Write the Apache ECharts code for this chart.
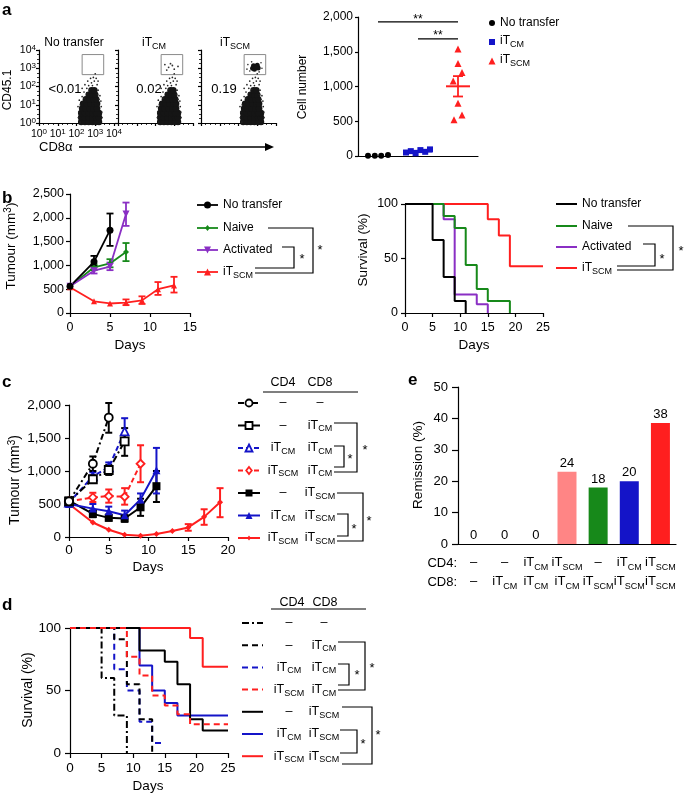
<!DOCTYPE html>
<html><head><meta charset="utf-8">
<script src="https://cdn.jsdelivr.net/npm/echarts@6/dist/echarts.min.js"></script>
<style>html,body{margin:0;padding:0;background:#fff}#c{width:685px;height:793px}</style>
</head><body><div id="c"></div>
<script>
const FONT = '"Liberation Sans", Arial, Helvetica, sans-serif';

// ================= DATA =================
// --- a: flow cytometry (log10 fluorescence units) ---
const flowDecades = [0, 1, 2, 3, 4];
const flowTitles = ['No transfer', 'iT_CM', 'iT_SCM'];
const flowPercents = ['<0.01', '0.02', '0.19'];
const flowCoreCloud = [
  [2.25,0.05],[2.45,0.05],[2.65,0.05],[2.85,0.05],[3.05,0.05],[3.2,0.05],
  [2.25,0.3],[2.45,0.3],[2.65,0.3],[2.85,0.3],[3.05,0.3],[3.2,0.3],
  [2.25,0.55],[2.45,0.55],[2.65,0.55],[2.85,0.55],[3.05,0.55],[3.2,0.55],
  [2.3,0.8],[2.5,0.8],[2.7,0.8],[2.9,0.8],[3.1,0.8],
  [2.35,1.05],[2.55,1.05],[2.75,1.05],[2.95,1.05],[3.1,1.05],
  [2.5,1.3],[2.7,1.3],[2.9,1.3],[3.05,1.3],
  [2.65,1.55],[2.85,1.55],[3.0,1.55],
  [2.8,1.8],[2.95,1.8]
];
const flowSparseCloud = [
  [2.1,0.3],[2.08,0.9],[2.15,1.25],[2.3,1.45],[2.4,1.7],[2.55,1.9],[2.65,2.05],[2.8,2.2],[2.95,2.3],
  [3.1,2.1],[2.9,2.5],[3.0,2.7],[3.25,1.5],[3.32,0.9],[3.36,0.3],[2.6,2.3],[2.75,2.45],
  [3.15,1.8],[2.45,2.1],[3.05,2.45],[2.12,0.6],[3.3,1.2],[2.3,1.9],[2.85,2.05],[3.15,2.3],
  [2.18,0.05],[3.35,0.6],[2.2,1.0],[3.2,1.3],[2.4,1.35],[3.12,1.55],[2.55,1.65],[2.7,1.85]
];
const flowGateCM = [[2.5,3.2],[2.7,3.05],[2.9,3.15],[3.0,2.95],[3.2,3.1],[2.6,2.9],[2.8,3.25]];
const flowGateSCMCore = [[2.75,3.0],[2.9,3.1],[3.05,3.02],[2.85,2.94],[3.0,3.16],[2.8,3.14],[2.95,3.05]];
const flowGateSCMSparse = [[2.5,3.2],[3.25,3.0],[2.6,2.85],[3.2,3.3],[2.7,3.35],[3.1,2.8],[2.45,2.95]];
const flowGate = [[2.3, 2.65], [3.45, 3.75]];

// --- a: cell numbers ---
const cellNoTransfer = [5, 5, 5, 15];
const cellCM = [50, 70, 40, 85, 60, 95];
const cellSCM = [1540, 1330, 1200, 1080, 760, 520, 590];
const cellLegend = ['No transfer', 'iT_CM', 'iT_SCM'];

// --- b: tumour growth [day, mm3] and error bars [day, low, high] ---
const bLegend = ['No transfer', 'Naive', 'Activated', 'iT_SCM'];
const tumNoTransfer = [[0,560],[3,1075],[5,1740]];
const tumNoTransferErr = [[3,990,1200],[5,1410,2090]];
const tumNaive = [[0,560],[3,960],[5,1040],[7,1280]];
const tumNaiveErr = [[3,900,1020],[5,960,1130],[7,1090,1470]];
const tumActivated = [[0,560],[3,890],[5,975],[7,2080]];
const tumActivatedErr = [[3,830,950],[5,900,1060],[7,1830,2320]];
const tumSCM = [[0,540],[3,245],[5,200],[7,220],[9,265],[11,500],[13,580]];
const tumSCMErr = [[7,165,285],[9,190,350],[11,380,650],[13,430,760]];

// --- b: survival (%) ---
const survNoTransfer = [[0,100],[5,67],[7,33],[9,11],[11,0]];
const survNaive = [[0,100],[7,89],[9,78],[11,44],[13,22],[15,11],[19,0]];
const survActivated = [[0,100],[7,86],[9,17],[13,8],[15,0]];
const survSCM = [[0,100],[15,86],[17,71],[19,43],[25,43]];

// --- c/d/e groups (CD4 / CD8) ---
const groupCD4 = ['–', '–', 'iT_CM', 'iT_SCM', '–', 'iT_CM', 'iT_SCM'];
const groupCD8 = ['–', 'iT_CM', 'iT_CM', 'iT_CM', 'iT_SCM', 'iT_SCM', 'iT_SCM'];

// --- c: tumour growth ---
const cTum = [
  [[0,540],[3,1110],[5,1810]],
  [[0,540],[3,875],[5,1015],[7,1450]],
  [[0,520],[3,920],[5,1055],[7,1600]],
  [[0,540],[3,600],[5,620],[7,610],[9,1110]],
  [[0,550],[3,350],[5,290],[7,280],[9,450],[11,770]],
  [[0,500],[3,430],[5,390],[7,330],[9,570],[11,1010]],
  [[0,500],[3,220],[5,110],[7,35],[9,20],[11,45],[13,90],[15,145],[17,305],[19,525]]
];
const cTumErr = [
  [[3,1000,1220],[5,1580,2030]],
  [[3,820,930],[5,940,1090],[7,1230,1650]],
  [[3,860,980],[5,980,1130],[7,1400,1800]],
  [[3,530,670],[5,520,720],[7,490,740],[9,830,1390]],
  [[3,300,400],[5,250,340],[7,230,330],[9,320,580],[11,530,1000]],
  [[3,370,500],[5,320,460],[7,270,400],[9,470,660],[11,660,1350]],
  [[15,95,195],[17,185,420],[19,300,740]]
];

// --- d: survival (%) ---
const dSurv = [
  [[0,100],[5,60],[7,30],[9,0]],
  [[0,100],[7,91],[9,55],[11,27],[13,0]],
  [[0,100],[7,67],[9,50],[11,25],[13,8],[15,8]],
  [[0,100],[9,77],[11,62],[13,46],[15,38],[17,31],[19,23],[25,23]],
  [[0,100],[11,82],[15,73],[17,55],[19,27],[21,18],[25,18]],
  [[0,100],[11,70],[13,50],[15,40],[17,30],[25,30]],
  [[0,100],[19,92],[21,69],[25,69]]
];

// --- e: remission (%) ---
const eValues = [0, 0, 0, 23, 18, 20, 38.5];
const eLabels = ['0', '0', '0', '24', '18', '20', '38'];

// ================= STYLE / LAYOUT =================
const BLACK = '#000', RED = '#ff1f1f', BLUE = '#1414c8', GREEN = '#17891a', PURPLE = '#8a2fc4', PINK = '#ff8585';
const eColors = [BLACK, BLACK, BLACK, PINK, GREEN, BLUE, RED];

function merge(a, b) {
  const o = Object.assign({}, a);
  for (const k in b) {
    if (b[k] && typeof b[k] === 'object' && !Array.isArray(b[k]) && a && a[k] && typeof a[k] === 'object' && !Array.isArray(a[k])) o[k] = merge(a[k], b[k]);
    else o[k] = b[k];
  }
  return o;
}
const toRich = t => String(t).replace(/_([A-Za-z]+)/g, '{s|$1}').replace(/\^(\w+)/g, '{sup|$1}');
function richFor(fs) {
  const small = Math.round(fs * 0.72);
  return {
    s: { fontSize: small, fontFamily: FONT, fill: '#000', color: '#000', verticalAlign: 'bottom', padding: [Math.round(fs * 0.55), 0, 0, 0] },
    sup: { fontSize: small, fontFamily: FONT, fill: '#000', color: '#000', verticalAlign: 'top', padding: [0, 0, Math.round(fs * 0.45), 0] }
  };
}
const comma = v => v.toLocaleString('en-US');

const grids = [
  [39, 50, 75, 73], [118, 50, 75, 73], [201, 50, 75, 73], // a flow
  [358, 17, 120, 139],   // a cells
  [70, 194, 120, 119],   // b tumour
  [405, 204, 138, 109],  // b survival
  [69, 405, 159, 132],   // c tumour
  [458, 387, 218, 157],  // e
  [70, 628, 158, 125]    // d survival
];

function ax(grid, o) {
  return merge({
    gridIndex: grid, type: 'value',
    axisLine: { show: true, onZero: false, lineStyle: { color: '#000', width: 1.2 } },
    axisTick: { show: true, length: 4, lineStyle: { color: '#000', width: 1.2 } },
    splitLine: { show: false },
    axisLabel: { color: '#000', fontFamily: FONT, fontSize: 12, margin: 5 }
  }, o);
}

const xAxis = [], yAxis = [];
for (let i = 0; i < 3; i++) {
  const lab = { show: i === 0, fontSize: 10.5, margin: 3, formatter: v => '10{sup|' + v + '}', rich: richFor(10.5) };
  const minor = { show: true, splitNumber: 4, length: 2, lineStyle: { color: '#000', width: 0.8 } };
  xAxis.push(ax(i, { min: flowDecades[0], max: flowDecades[4], interval: 1, axisTick: { length: 3 }, minorTick: minor, axisLabel: merge(lab, { margin: 5 }) }));
  yAxis.push(ax(i, { min: flowDecades[0], max: flowDecades[4], interval: 1, axisTick: { length: 3 }, minorTick: minor, axisLabel: lab }));
}
xAxis.push(ax(3, { min: 0, max: 3, axisTick: { show: false }, axisLabel: { show: false } }));
yAxis.push(ax(3, { min: 0, max: 2000, interval: 500, axisTick: { length: 3 }, axisLabel: { formatter: comma, margin: 5 } }));
xAxis.push(ax(4, { min: 0, max: 15, interval: 5, axisLabel: { fontSize: 12.5, margin: 8 } }));
yAxis.push(ax(4, { min: 0, max: 2500, interval: 500, axisLabel: { fontSize: 12.5, formatter: comma, margin: 6 } }));
xAxis.push(ax(5, { min: 0, max: 25, interval: 5, axisLabel: { fontSize: 12.5, margin: 8 } }));
yAxis.push(ax(5, { min: 0, max: 100, interval: 50, axisLabel: { fontSize: 12.5, margin: 7 } }));
xAxis.push(ax(6, { min: 0, max: 20, interval: 5, axisLabel: { fontSize: 13.5, margin: 6 } }));
yAxis.push(ax(6, { min: 0, max: 2000, interval: 500, axisLabel: { fontSize: 13.5, formatter: comma, margin: 8 } }));
xAxis.push(ax(7, {
  type: 'category', data: eValues.map((_, i) => String(i)), axisTick: { show: false },
  axisLabel: { fontSize: 13, margin: 9, lineHeight: 19, interval: 0,
    formatter: (v, i) => toRich(groupCD4[i]) + '\n' + toRich(groupCD8[i]),
    rich: richFor(13) }
}));
yAxis.push(ax(7, { min: 0, max: 50, interval: 10, axisTick: { length: 6 }, axisLabel: { fontSize: 13, margin: 10 } }));
xAxis.push(ax(8, { min: 0, max: 25, interval: 5, axisTick: { length: 5 }, axisLabel: { fontSize: 13.5, margin: 8 } }));
yAxis.push(ax(8, { min: 0, max: 100, interval: 50, axisTick: { length: 5 }, axisLabel: { fontSize: 13.5, margin: 9 } }));

// ================= SERIES =================
const series = [];
function line(grid, data, color, o = {}) {
  series.push({
    type: 'line', xAxisIndex: grid, yAxisIndex: grid, data, step: o.step || false,
    symbol: o.symbol || 'none', showSymbol: !!o.symbol, symbolSize: o.size || 6, symbolRotate: o.rot || 0,
    lineStyle: { color, width: o.w || 1.8, type: o.dash || 'solid' },
    itemStyle: o.hollow ? { color: '#fff', borderColor: color, borderWidth: 1.8 } : { color, borderWidth: 0 },
    z: o.z || 3, silent: true, animation: false
  });
}
function err(grid, data, color, o = {}) {
  series.push({
    type: 'custom', xAxisIndex: grid, yAxisIndex: grid, data, z: o.z || 3, silent: true,
    encode: { x: 0, y: [1, 2] },
    renderItem(params, api) {
      const x = api.value(0), a = api.coord([x, api.value(1)]), b = api.coord([x, api.value(2)]);
      const c = o.cap || 3.5, st = { stroke: color, lineWidth: o.w || 1.8 };
      return { type: 'group', children: [
        { type: 'line', shape: { x1: a[0], y1: a[1], x2: b[0], y2: b[1] }, style: st },
        { type: 'line', shape: { x1: a[0] - c, y1: a[1], x2: a[0] + c, y2: a[1] }, style: st },
        { type: 'line', shape: { x1: b[0] - c, y1: b[1], x2: b[0] + c, y2: b[1] }, style: st }
      ] };
    }
  });
}
function scatter(grid, data, color, symbol, size, extra = {}) {
  series.push(Object.assign({ type: 'scatter', xAxisIndex: grid, yAxisIndex: grid, data, symbol, symbolSize: size,
    itemStyle: { color, opacity: 1 }, silent: true, z: 3 }, extra));
}

// a: flow plots
for (let i = 0; i < 3; i++) {
  scatter(i, flowCoreCloud, '#151515', 'circle', 6.5, {
    markArea: { silent: true, itemStyle: { color: 'rgba(0,0,0,0)', borderColor: '#8a8a8a', borderWidth: 1 },
      data: [[{ coord: flowGate[0] }, { coord: flowGate[1] }]] }
  });
  scatter(i, flowSparseCloud, '#222', 'circle', 1.7);
}
scatter(1, flowGateCM, '#333', 'circle', 1.8);
scatter(2, flowGateSCMCore, '#111', 'circle', 5);
scatter(2, flowGateSCMSparse, '#333', 'circle', 1.6);

// a: cell numbers (jittered horizontally around group centres 0.5, 1.5, 2.5)
const jitNT = [-0.25, -0.08, 0.08, 0.25];
const jitCM = [-0.3, -0.18, -0.06, 0.06, 0.18, 0.3];
const jitSCM = [0, 0, 0.1, -0.12, 0, -0.1, 0.1];
const meanOf = a => a.reduce((s, v) => s + v, 0) / a.length;
const semOf = a => { const m = meanOf(a); return Math.sqrt(a.reduce((s, v) => s + (v - m) ** 2, 0) / (a.length - 1)) / Math.sqrt(a.length); };
const mCM = meanOf(cellCM), mSCM = meanOf(cellSCM), sSCM = semOf(cellSCM), sCM = semOf(cellCM);
line(3, [[0.5, 1930], [2.5, 1930]], BLACK, { w: 1.2 });
line(3, [[1.5, 1685], [2.5, 1685]], BLACK, { w: 1.2 });
line(3, [[1.15, mCM], [1.85, mCM]], BLUE, { w: 2, z: 4 });
err(3, [[1.5, mCM - sCM, mCM + sCM]], BLUE, { cap: 5, z: 4 });
line(3, [[2.2, mSCM], [2.8, mSCM]], RED, { w: 2, z: 4 });
err(3, [[2.5, mSCM - sSCM, mSCM + sSCM]], RED, { cap: 5, z: 4 });
scatter(3, cellNoTransfer.map((v, i) => [0.5 + jitNT[i], v]), BLACK, 'circle', 6);
scatter(3, cellCM.map((v, i) => [1.5 + jitCM[i], v]), BLUE, 'rect', 6);
scatter(3, cellSCM.map((v, i) => [2.5 + jitSCM[i], v]), RED, 'triangle', 7);

// b: tumour
line(4, tumSCM, RED, { symbol: 'triangle', size: 6 }); err(4, tumSCMErr, RED);
line(4, tumNaive, GREEN, { symbol: 'diamond', size: 6 }); err(4, tumNaiveErr, GREEN);
line(4, tumActivated, PURPLE, { symbol: 'triangle', rot: 180, size: 7 }); err(4, tumActivatedErr, PURPLE);
line(4, tumNoTransfer, BLACK, { symbol: 'circle', size: 7 }); err(4, tumNoTransferErr, BLACK);

// b: survival
line(5, survSCM, RED, { step: 'end', w: 2 });
line(5, survActivated, PURPLE, { step: 'end', w: 2 });
line(5, survNaive, GREEN, { step: 'end', w: 2 });
line(5, survNoTransfer, BLACK, { step: 'end', w: 2 });

// c: tumour
const cStyle = [
  { color: BLACK, dash: [6, 3, 2, 3], symbol: 'circle', hollow: true, size: 8 },
  { color: BLACK, dash: [7, 3, 2, 3], symbol: 'rect', hollow: true, size: 8 },
  { color: BLUE, dash: [5, 3], symbol: 'triangle', hollow: true, size: 8 },
  { color: RED, dash: [5, 3], symbol: 'diamond', hollow: true, size: 8 },
  { color: BLACK, dash: 'solid', symbol: 'rect', hollow: false, size: 8 },
  { color: BLUE, dash: 'solid', symbol: 'triangle', hollow: false, size: 8 },
  { color: RED, dash: 'solid', symbol: 'diamond', hollow: false, size: 6 }
];
[6, 4, 5, 3, 2, 1, 0].forEach(k => {
  const s = cStyle[k];
  err(6, cTumErr[k], s.color, { w: 2 });
  line(6, cTum[k], s.color, { symbol: s.symbol, hollow: s.hollow, size: s.size, dash: s.dash, w: 2 });
});

// d: survival
const dStyle = [
  { color: BLACK, dash: [7, 3, 2, 3] },
  { color: BLACK, dash: [6, 4] },
  { color: BLUE, dash: [6, 4] },
  { color: RED, dash: [6, 4] },
  { color: BLACK, dash: 'solid' },
  { color: BLUE, dash: 'solid' },
  { color: RED, dash: 'solid' }
];
[6, 5, 4, 2, 1, 0, 3].forEach(k => line(8, dSurv[k], dStyle[k].color, { step: 'end', dash: dStyle[k].dash, w: 2 }));

// e: remission bars
series.push({
  type: 'bar', xAxisIndex: 7, yAxisIndex: 7, data: eValues, barWidth: 19, silent: true,
  itemStyle: { color: p => eColors[p.dataIndex] },
  label: { show: true, position: 'top', distance: 2, color: '#000', fontFamily: FONT, fontSize: 13,
    formatter: p => eLabels[p.dataIndex] }
});

// ================= GRAPHIC (labels, legends, brackets) =================
const G = [];
function T(x, y, text, o = {}) {
  const fs = o.fs || 12;
  G.push({ type: 'text', x, y, rotation: o.rot || 0, z: 100, silent: true,
    style: { text: toRich(text), fill: '#000', fontSize: fs, fontFamily: FONT, fontWeight: o.bold ? 'bold' : 'normal',
      align: o.align || 'center', verticalAlign: o.va || 'middle', rich: richFor(fs) } });
}
function P(points, o = {}) {
  G.push({ type: 'polyline', z: 100, silent: true, shape: { points },
    style: { stroke: o.color || '#000', lineWidth: o.w || 1.2, fill: null, lineDash: o.dash || null } });
}
function M(type, cx, cy, s, color, hollow) {
  const h = s / 2; let el;
  if (type === 'circle') el = { type: 'circle', shape: { cx, cy, r: h } };
  else if (type === 'rect') el = { type: 'rect', shape: { x: cx - h, y: cy - h, width: s, height: s } };
  else if (type === 'triangle') el = { type: 'polygon', shape: { points: [[cx, cy - h], [cx + h, cy + h], [cx - h, cy + h]] } };
  else if (type === 'downTriangle') el = { type: 'polygon', shape: { points: [[cx, cy + h], [cx + h, cy - h], [cx - h, cy - h]] } };
  else el = { type: 'polygon', shape: { points: [[cx, cy - h], [cx + h * 0.8, cy], [cx, cy + h], [cx - h * 0.8, cy]] } };
  el.z = 101; el.silent = true;
  el.style = hollow ? { fill: '#fff', stroke: color, lineWidth: 1.8 } : { fill: color };
  G.push(el);
}
const star = (x, y, fs = 13) => T(x, y + fs * 0.22, '*', { fs });

// panel letters
T(2, 10, 'a', { fs: 17, bold: true, align: 'left' });
T(2, 198, 'b', { fs: 17, bold: true, align: 'left' });
T(2, 382, 'c', { fs: 17, bold: true, align: 'left' });
T(2, 605, 'd', { fs: 17, bold: true, align: 'left' });
T(408, 380, 'e', { fs: 17, bold: true, align: 'left' });

// a: flow
[74, 154, 235].forEach((x, i) => T(x, 43, flowTitles[i], { fs: 12 }));
[65, 149, 224].forEach((x, i) => T(x, 89, flowPercents[i], { fs: 13 }));
T(8, 90, 'CD45.1', { fs: 12, rot: Math.PI / 2 });
T(39, 147, 'CD8α', { fs: 13, align: 'left' });
P([[79, 147], [266, 147]], { w: 1.3 });
G.push({ type: 'polygon', z: 100, silent: true, shape: { points: [[274, 147], [265, 143], [265, 151]] }, style: { fill: '#000' } });

// a: cells
T(303, 87, 'Cell number', { fs: 12, rot: Math.PI / 2 });
T(418, 19.5, '**', { fs: 12 });
T(438, 35.5, '**', { fs: 12 });
M('circle', 492, 23, 6, BLACK, false);
M('rect', 492, 42, 6, BLUE, false);
M('triangle', 492, 61, 7, RED, false);
[23, 41, 60].forEach((y, i) => T(500, y, cellLegend[i], { fs: 12, align: 'left' }));

// b: tumour
T(11, 246, 'Tumour (mm^3)', { fs: 13.5, rot: Math.PI / 2 });
T(130, 345, 'Days', { fs: 13.5 });
const bSym = ['circle', 'diamond', 'downTriangle', 'triangle'];
const bCol = [BLACK, GREEN, PURPLE, RED];
[205, 228, 250, 272].forEach((y, i) => {
  P([[197, y], [218, y]], { color: bCol[i], w: 1.8 });
  M(bSym[i], 207.5, y, i === 1 ? 6 : 7, bCol[i], false);
  T(223, y, bLegend[i], { fs: 12, align: 'left' });
});
P([[268, 228], [313, 228], [313, 273], [255, 273]]);
P([[282, 247], [294, 247], [294, 268], [255, 268]]);
star(302, 257); star(320, 248);

// b: survival
T(363, 250, 'Survival (%)', { fs: 13.5, rot: Math.PI / 2 });
T(474, 345, 'Days', { fs: 13.5 });
[204, 226, 247, 268].forEach((y, i) => {
  P([[556, y], [577, y]], { color: bCol[i], w: 2 });
  T(582, y, bLegend[i], { fs: 12, align: 'left' });
});
P([[628, 226], [673, 226], [673, 270], [617, 270]]);
P([[643, 244], [655, 244], [655, 266], [617, 266]]);
star(662, 257); star(681, 249);

// c: tumour
T(15, 480, 'Tumour (mm^3)', { fs: 14, rot: Math.PI / 2 });
T(148, 567, 'Days', { fs: 13.5 });
T(283, 383, 'CD4', { fs: 12.5 }); T(320, 383, 'CD8', { fs: 12.5 });
P([[263, 392], [358, 392]]);
for (let i = 0; i < 7; i++) {
  const y = 403 + 22.5 * i, s = cStyle[i];
  P([[238, y], [260, y]], { color: s.color, w: 2, dash: s.dash === 'solid' ? null : s.dash });
  M(s.symbol, 249, y, s.size - 1, s.color, s.hollow);
  T(283, y, groupCD4[i], { fs: 12.5 });
  T(320, y, groupCD8[i], { fs: 12.5 });
}
P([[334, 423], [357, 423], [357, 472], [334, 472]]);
P([[334, 446], [344, 446], [344, 467], [334, 467]]);
star(350, 457); star(365, 448);
P([[337, 493], [363, 493], [363, 541], [337, 541]]);
P([[337, 514], [348, 514], [348, 536], [337, 536]]);
star(354, 527); star(369, 519);

// d: survival
T(28, 690, 'Survival (%)', { fs: 14, rot: Math.PI / 2 });
T(148, 786, 'Days', { fs: 13.5 });
T(292, 603, 'CD4', { fs: 12.5 }); T(325, 603, 'CD8', { fs: 12.5 });
P([[271, 609], [366, 609]]);
for (let i = 0; i < 7; i++) {
  const y = 623 + 22.2 * i, s = dStyle[i];
  P([[242, y], [263, y]], { color: s.color, w: 2, dash: s.dash === 'solid' ? null : s.dash });
  T(289, y, groupCD4[i], { fs: 12.5 });
  T(324, y, groupCD8[i], { fs: 12.5 });
}
P([[338, 642], [365, 642], [365, 690], [338, 690]]);
P([[338, 664], [349, 664], [349, 685], [338, 685]]);
star(357, 673); star(372, 666);
P([[342, 707], [372, 707], [372, 764], [342, 764]]);
P([[340, 730], [357, 730], [357, 753], [340, 753]]);
star(363, 742); star(378, 733);

// e
T(418, 465, 'Remission (%)', { fs: 13.5, rot: Math.PI / 2 });
T(457, 563, 'CD4:', { fs: 13, align: 'right' });
T(457, 582, 'CD8:', { fs: 13, align: 'right' });

const option = {
  animation: false, backgroundColor: '#fff', textStyle: { fontFamily: FONT },
  grid: grids.map(g => ({ left: g[0], top: g[1], width: g[2], height: g[3], containLabel: false, outerBoundsMode: 'none' })),
  xAxis, yAxis, series, graphic: { elements: G }
};
const chart = echarts.init(document.getElementById('c'), null, { renderer: 'canvas', width: 685, height: 793 });
chart.setOption(option);
</script></body></html>
